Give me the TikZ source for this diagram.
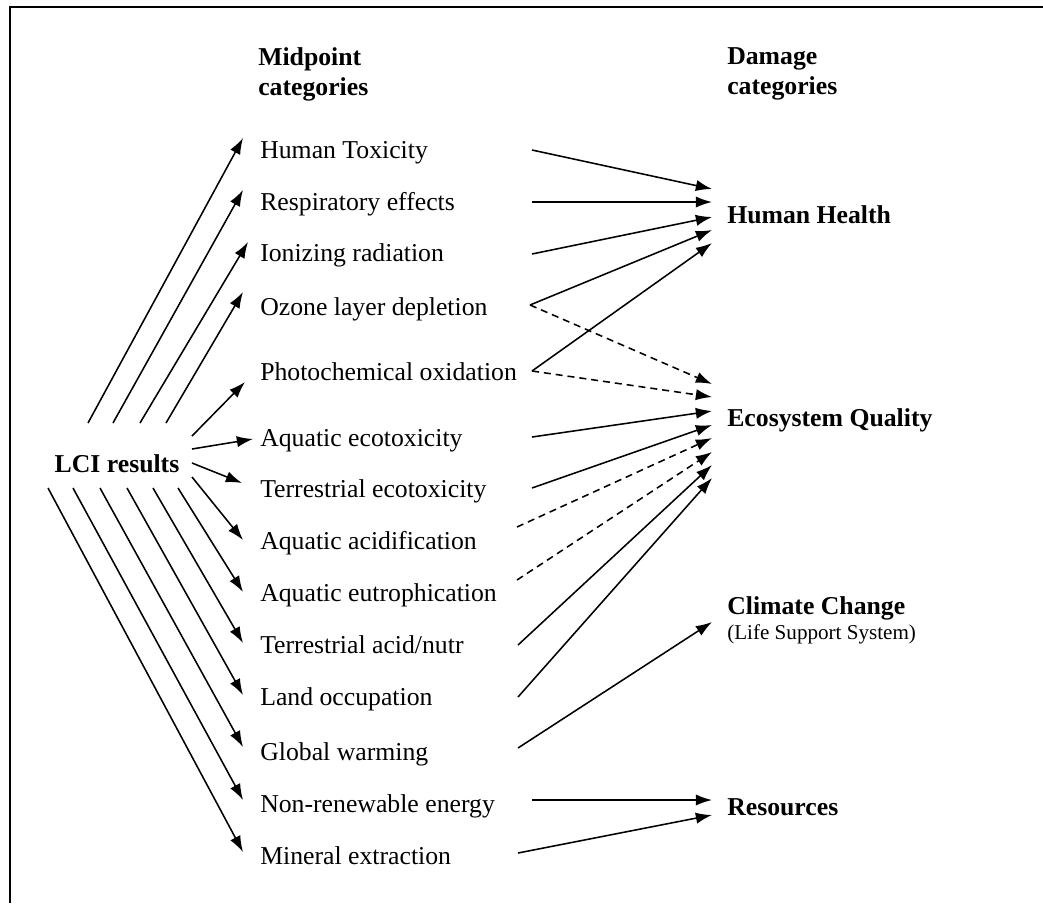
\documentclass[tikz,border=0pt]{standalone}
\usepackage{fontspec}
\setmainfont{Liberation Serif}
\usetikzlibrary{arrows.meta,calc}
\tikzset{
  txt/.style={inner sep=0pt,anchor=west},
  mid/.style={txt,font=\fontsize{18.3}{22}\selectfont,text height=14.5pt,text depth=2pt},
  dmg/.style={mid,font=\bfseries\fontsize{18.3}{22}\selectfont},
  arr/.style={line width=1.1pt,-{Latex[length=11.5pt,width=8pt]}},
  darr/.style={arr,dash pattern=on 5pt off 3.5pt}
}

\begin{document}
\begin{tikzpicture}[x=0.025cm,y=-0.025cm]
  \useasboundingbox (0,0) rectangle (1043,903);
  % frame
  \draw[line width=1.3pt] (1043,7) -- (10,7) -- (10,903);

  % headers
  \node[txt,align=left,font=\bfseries\fontsize{18.3}{21.3}\selectfont] (hmid) at (258,74) {Midpoint\\categories};
  \node[txt,align=left,font=\bfseries\fontsize{18.3}{21.3}\selectfont] (hdmg) at (727,74) {Damage\\categories};

  % inventory
  \node[inner sep=0pt,font=\bfseries\fontsize{18.3}{22}\selectfont] (lci) at (117,464) {LCI results};

  % midpoint categories
  \node[mid] (htox) at (260,150) {Human Toxicity};
  \node[mid] (resp) at (260,202) {Respiratory effects};
  \node[mid] (ion) at (260,253) {Ionizing radiation};
  \node[mid] (ozone) at (260,307) {Ozone layer depletion};
  \node[mid] (photo) at (260,372) {Photochemical oxidation};
  \node[mid] (aqeco) at (260,438) {Aquatic ecotoxicity};
  \node[mid] (teco) at (260,489) {Terrestrial ecotoxicity};
  \node[mid] (aqacid) at (260,541) {Aquatic acidification};
  \node[mid] (aqeut) at (260,593) {Aquatic eutrophication};
  \node[mid] (tacid) at (260,645) {Terrestrial acid/nutr};
  \node[mid] (land) at (260,697) {Land occupation};
  \node[mid] (gw) at (260,752) {Global warming};
  \node[mid] (nre) at (260,804) {Non-renewable energy};
  \node[mid] (mine) at (260,856) {Mineral extraction};

  % damage categories
  \node[dmg] (hh) at (727,215) {Human Health};
  \node[dmg] (eq) at (727,418) {Ecosystem Quality};
  \node[dmg] (cc) at (727,606) {Climate Change};
  \node[txt,font=\fontsize{15}{18}\selectfont] (lss) at (727,634) {(Life Support System)};
  \node[dmg] (res) at (727,807) {Resources};

  % fan-out points next to LCI results
  \coordinate (o-htox) at (88,423);
  \coordinate (o-resp) at (113,423);
  \coordinate (o-ion) at (140,423);
  \coordinate (o-ozone) at (166,423);
  \coordinate (o-photo) at (192,436);
  \coordinate (o-aqeco) at (192,449);
  \coordinate (o-teco) at (192,463);
  \coordinate (o-aqacid) at (192,477);
  \coordinate (o-aqeut) at (178,488);
  \coordinate (o-tacid) at (153,488);
  \coordinate (o-land) at (127,488);
  \coordinate (o-gw) at (100,488);
  \coordinate (o-nre) at (73,488);
  \coordinate (o-mine) at (48,488);

  % LCI -> midpoints
  \draw[arr] (o-htox) -- ($(htox.west)+(-17,-12)$);
  \draw[arr] (o-resp) -- ($(resp.west)+(-17,-12)$);
  \draw[arr] (o-ion) -- ($(ion.west)+(-12,-11)$);
  \draw[arr] (o-ozone) -- ($(ozone.west)+(-17,-15)$);
  \draw[arr] (o-photo) -- ($(photo.west)+(-15,10)$);
  \draw[arr] (o-aqeco) -- ($(aqeco.west)+(-7,1)$);
  \draw[arr] (o-teco) -- ($(teco.west)+(-18,-6)$);
  \draw[arr] (o-aqacid) -- ($(aqacid.west)+(-17,-1)$);
  \draw[arr] (o-aqeut) -- ($(aqeut.west)+(-17,-1)$);
  \draw[arr] (o-tacid) -- ($(tacid.west)+(-17,-2)$);
  \draw[arr] (o-land) -- ($(land.west)+(-17,-2)$);
  \draw[arr] (o-gw) -- ($(gw.west)+(-17,-5)$);
  \draw[arr] (o-nre) -- ($(nre.west)+(-17,-4)$);
  \draw[arr] (o-mine) -- ($(mine.west)+(-17,-4)$);

  % midpoints -> Human Health
  \draw[arr] ($(htox.west)+(272,0)$) -- ($(hh.west)+(-15,-26)$);
  \draw[arr] ($(resp.west)+(272,0)$) -- ($(hh.west)+(-15,-13)$);
  \draw[arr] ($(ion.west)+(272,1)$) -- ($(hh.west)+(-15,2)$);
  \draw[arr] ($(ozone.west)+(270,-2)$) -- ($(hh.west)+(-15,15)$);
  \draw[arr] ($(photo.west)+(272,-1)$) -- ($(hh.west)+(-15,28)$);

  % midpoints -> Ecosystem Quality
  \draw[darr] ($(ozone.west)+(270,-2)$) -- ($(eq.west)+(-15,-34)$);
  \draw[darr] ($(photo.west)+(272,-1)$) -- ($(eq.west)+(-15,-21)$);
  \draw[arr] ($(aqeco.west)+(272,-1)$) -- ($(eq.west)+(-15,-7)$);
  \draw[arr] ($(teco.west)+(272,-1)$) -- ($(eq.west)+(-15,7)$);
  \draw[darr] ($(aqacid.west)+(257,-14)$) -- ($(eq.west)+(-15,20)$);
  \draw[darr] ($(aqeut.west)+(257,-13)$) -- ($(eq.west)+(-15,34)$);
  \draw[arr] ($(tacid.west)+(258,0)$) -- ($(eq.west)+(-15,47)$);
  \draw[arr] ($(land.west)+(258,0)$) -- ($(eq.west)+(-15,60)$);

  % Climate Change and Resources
  \draw[arr] ($(gw.west)+(258,-4)$) -- ($(cc.west)+(-15,16)$);
  \draw[arr] ($(nre.west)+(272,-4)$) -- ($(res.west)+(-15,-7)$);
  \draw[arr] ($(mine.west)+(258,-3)$) -- ($(res.west)+(-15,8)$);
\end{tikzpicture}
\end{document}
